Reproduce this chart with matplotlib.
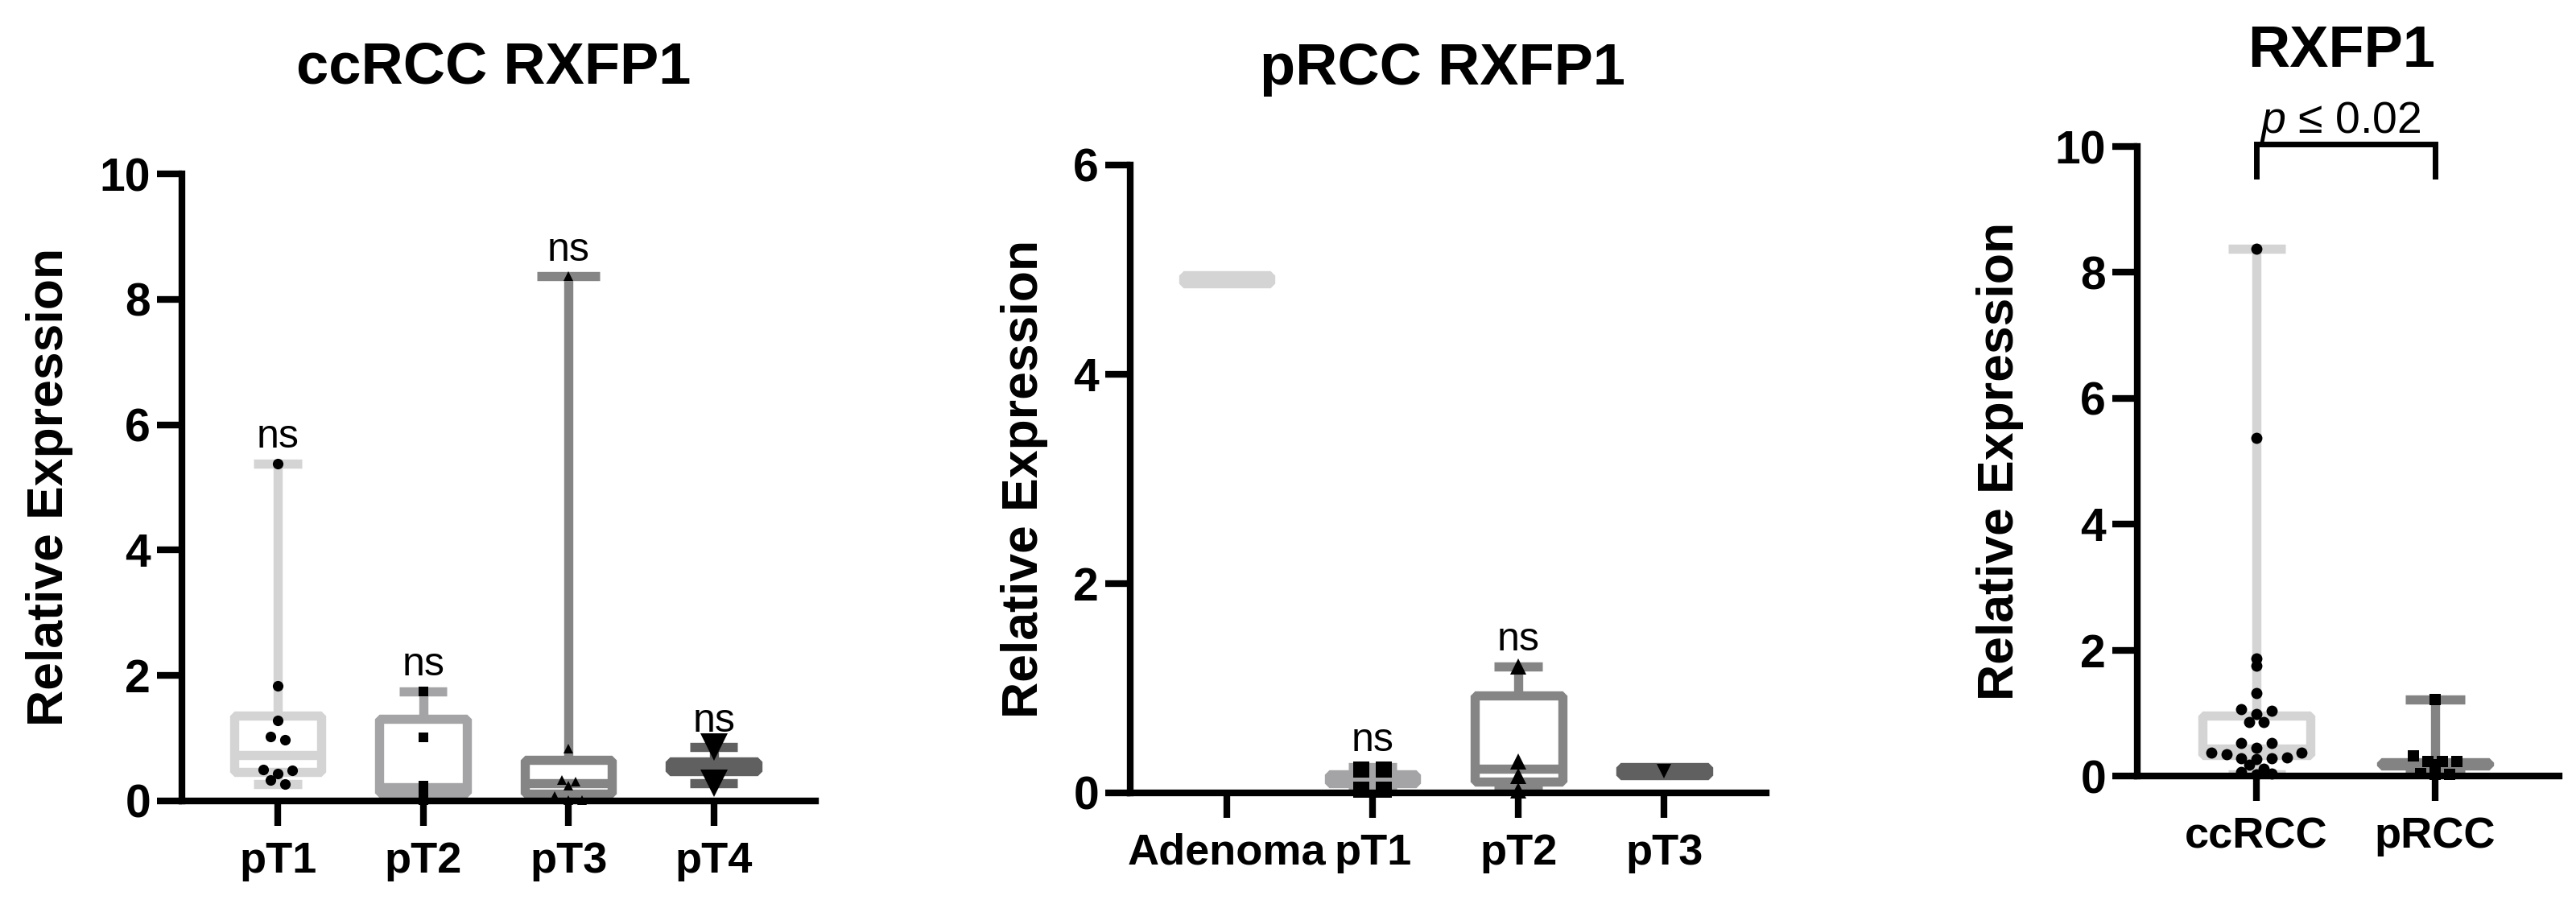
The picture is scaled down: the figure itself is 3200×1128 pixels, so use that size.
import numpy as np
import matplotlib

matplotlib.use("Agg")
import matplotlib.pyplot as plt

# ---- data ------------------------------------------------------------------
# ccRCC by stage
cc_groups = ["pT1", "pT2", "pT3", "pT4"]
cc_pt1 = [5.38, 1.84, 1.29, 1.03, 0.98, 0.50, 0.49, 0.44, 0.33, 0.27]
cc_pt2 = [1.75, 1.02, 0.24, 0.15, 0.01]
cc_pt3 = [8.37, 0.84, 0.33, 0.31, 0.25, 0.08, 0.01, 0.01]
cc_pt4 = [0.86, 0.28]
cc_whislo = [0.27, 0.03, 0.02, 0.28]
cc_q1 = [0.46, 0.13, 0.11, 0.47]
cc_med = [0.73, 0.22, 0.28, 0.55]
cc_q3 = [1.36, 1.31, 0.65, 0.63]
cc_whishi = [5.38, 1.75, 8.37, 0.86]

# pRCC by stage
p_groups = ["Adenoma", "pT1", "pT2", "pT3"]
p_adenoma = [4.91]
p_pt1 = [0.225, 0.225, 0.03, 0.03]
p_pt2 = [1.21, 0.30, 0.16, 0.02]
p_pt3 = [0.21]
p_whislo = [4.91, 0.03, 0.02, 0.21]
p_q1 = [4.87, 0.09, 0.11, 0.17]
p_med = [4.91, 0.13, 0.23, 0.21]
p_q3 = [4.95, 0.18, 0.93, 0.25]
p_whishi = [4.91, 0.25, 1.21, 0.21]

# ccRCC vs pRCC
rcc_groups = ["ccRCC", "pRCC"]
ccrcc = [8.37, 5.37, 1.87, 1.75, 1.32, 1.06, 1.04, 0.99, 0.86, 0.86, 0.52,
         0.52, 0.45, 0.37, 0.37, 0.34, 0.30, 0.28, 0.28, 0.27, 0.18, 0.115,
         0.06, 0.04, 0.02]
prcc = [1.21, 0.32, 0.23, 0.23, 0.23, 0.18, 0.04, 0.03, 0.03]
rcc_whislo = [0.02, 0.02]
rcc_q1 = [0.33, 0.16]
rcc_med = [0.44, 0.19]
rcc_q3 = [0.965, 0.22]
rcc_whishi = [8.37, 1.21]
p_value_label = "$p$ ≤ 0.02"

# ---- styling ----------------------------------------------------------------
W, H, DPI = 3200, 1128, 100
LIGHT, MID, MIDDARK, DARK = "#d4d4d4", "#a4a4a6", "#858585", "#606060"
BOX_LW = 8.2
SPINE_LW = 6

plt.rcParams["font.family"] = ["Liberation Sans", "DejaVu Sans"]
plt.rcParams["mathtext.fontset"] = "custom"
plt.rcParams["mathtext.it"] = "Liberation Sans:italic"
plt.rcParams["mathtext.rm"] = "Liberation Sans"

fig = plt.figure(figsize=(W / DPI, H / DPI), dpi=DPI)


def add_axes_px(left, right, top, bottom):
    return fig.add_axes([left / W, 1 - bottom / H, (right - left) / W, (bottom - top) / H])


def swarm_offsets(values, row_h, step):
    """Spread near-equal values sideways; the larger ones take the outer slots."""
    values = np.asarray(values, dtype=float)
    order = np.argsort(-values, kind="stable")
    rows = []
    for i in order:
        if rows and values[rows[-1][0]] - values[i] < row_h:
            rows[-1].append(i)
        else:
            rows.append([i])
    offs = np.zeros(len(values))
    for row in rows:
        n = len(row)
        slots = (np.arange(n) - (n - 1) / 2) * step
        slots = slots[np.argsort(-np.abs(slots), kind="stable")]
        for idx, s in zip(row, slots):
            offs[idx] = s
    return offs


def draw_panel(ax, groups, points, stats, colors, markers, msizes, capwidths,
               xlim, ylim, yticks, row_h, px_per_x):
    n = len(groups)
    pos = np.arange(1, n + 1)
    bstats = [dict(whislo=s[0], q1=s[1], med=s[2], q3=s[3], whishi=s[4], fliers=[])
              for s in zip(*stats)]
    art = ax.bxp(bstats, positions=pos, widths=0.6, capwidths=capwidths,
                 patch_artist=True, showfliers=False, manage_ticks=False)
    for i, c in enumerate(colors):
        art["boxes"][i].set(facecolor="white", edgecolor=c, linewidth=BOX_LW,
                            joinstyle="bevel", zorder=2)
        art["medians"][i].set(color=c, linewidth=BOX_LW, solid_capstyle="butt")
        for ln in art["whiskers"][2 * i:2 * i + 2] + art["caps"][2 * i:2 * i + 2]:
            ln.set(color=c, linewidth=BOX_LW, solid_capstyle="butt")

    for x, vals, m, ms in zip(pos, points, markers, msizes):
        if m is None:
            continue
        step = 1.35 * ms * DPI / 72 / px_per_x
        offs = swarm_offsets(vals, row_h, step)
        ax.plot(x + offs, vals, linestyle="none", marker=m, markersize=ms,
                color="black", markeredgewidth=0, zorder=4, clip_on=False)

    ax.set_xlim(*xlim)
    ax.set_ylim(*ylim)
    ax.set_yticks(yticks)
    ax.set_xticks(pos)
    ax.set_xticklabels(groups)
    for side in ("top", "right"):
        ax.spines[side].set_visible(False)
    for side in ("left", "bottom"):
        ax.spines[side].set_linewidth(SPINE_LW)
    ax.tick_params(axis="both", length=22, width=SPINE_LW)
    ax.tick_params(axis="y", pad=6, labelsize=41)
    ax.tick_params(axis="x", pad=14, labelsize=39)
    for lab in ax.get_xticklabels() + ax.get_yticklabels():
        lab.set_fontweight("bold")
    return pos


def add_ns(ax, xs, tops):
    for x, y in zip(xs, tops):
        ax.annotate("ns", (x, y), xytext=(0, 14), textcoords="offset points",
                    ha="center", va="baseline", fontsize=36, annotation_clip=False)


# ---- panel 1: ccRCC ---------------------------------------------------------
ax1 = add_axes_px(226, 1013, 216, 995)
xl1 = (0.34, 4.70)
pos1 = draw_panel(ax1, cc_groups, [cc_pt1, cc_pt2, cc_pt3, cc_pt4],
                  [cc_whislo, cc_q1, cc_med, cc_q3, cc_whishi],
                  [LIGHT, MID, MIDDARK, DARK], ["o", "s", "^", "v"], [9.5, 9, 9, 25],
                  [0.33, 0.33, 0.43, 0.33], xl1, (0, 10), [0, 2, 4, 6, 8, 10],
                  0.075, (1013 - 226) / (xl1[1] - xl1[0]))
add_ns(ax1, pos1, cc_whishi)

# ---- panel 2: pRCC ----------------------------------------------------------
ax2 = add_axes_px(1404, 2194, 205, 985)
xl2 = (0.337, 4.70)
pos2 = draw_panel(ax2, p_groups, [p_adenoma, p_pt1, p_pt2, p_pt3],
                  [p_whislo, p_q1, p_med, p_q3, p_whishi],
                  [LIGHT, MID, MIDDARK, DARK], [None, "s", "^", "v"], [8, 15, 14, 13],
                  [0.33, 0.33, 0.33, 0.33], xl2, (0, 6), [0, 2, 4, 6],
                  0.07, (2194 - 1404) / (xl2[1] - xl2[0]))
add_ns(ax2, pos2[1:3], p_whishi[1:3])

# ---- panel 3: ccRCC vs pRCC -------------------------------------------------
ax3 = add_axes_px(2655, 3179, 182, 964)
xl3 = (0.333, 2.694)
pos3 = draw_panel(ax3, rcc_groups, [ccrcc, prcc],
                  [rcc_whislo, rcc_q1, rcc_med, rcc_q3, rcc_whishi],
                  [LIGHT, "#838383"], ["o", "s"], [10, 9.5],
                  [0.32, 0.33], xl3, (0, 10), [0, 2, 4, 6, 8, 10],
                  0.11, (3179 - 2655) / (xl3[1] - xl3[0]))
ax3.plot([pos3[0], pos3[0], pos3[1], pos3[1]], [9.53, 10.04, 10.04, 9.53],
         color="black", linewidth=5, solid_joinstyle="miter", clip_on=False)
fig.text(2907 / W, 1 - 165 / H, p_value_label, ha="center", va="baseline", fontsize=40)

# ---- titles and axis labels -------------------------------------------------
for x, y, t in [(613, 103, "ccRCC RXFP1"), (1792, 105, "pRCC RXFP1"), (2909, 83, "RXFP1")]:
    fig.text(x / W, 1 - y / H, t, ha="center", va="baseline", fontsize=52,
             fontweight="bold")
for x, y in [(62, 605), (1272, 595), (2485, 573)]:
    fig.text(x / W, 1 - y / H, "Relative Expression", ha="center", va="center",
             rotation=90, fontsize=45, fontweight="bold")

fig.savefig("out.png", dpi=DPI)
